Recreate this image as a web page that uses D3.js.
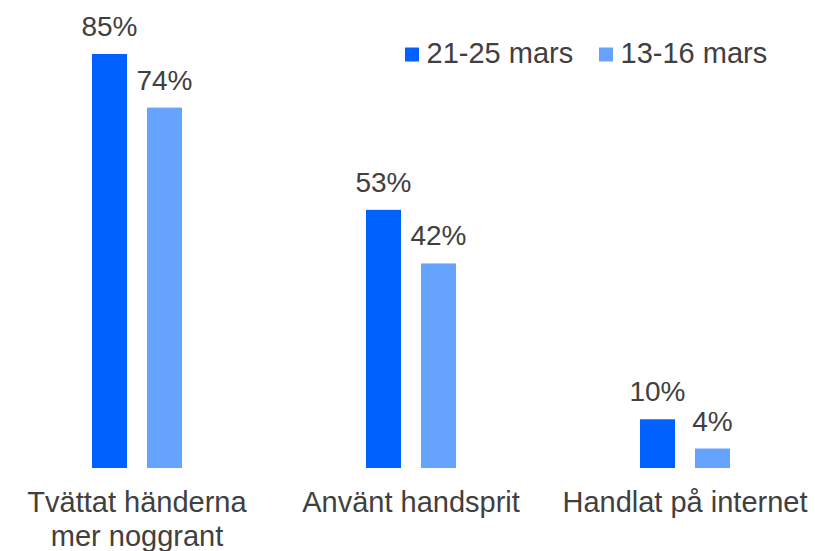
<!DOCTYPE html>
<html>
<head>
<meta charset="utf-8">
<script src="https://cdn.jsdelivr.net/npm/d3@7"></script>
<style>
  html, body { margin: 0; padding: 0; background: #ffffff; }
  svg { display: block; }
  text { font-family: "Liberation Sans", Arial, sans-serif; fill: #404040; }
</style>
</head>
<body>
<script>
const categories = [["Tvättat händerna", "mer noggrant"], ["Använt handsprit"], ["Handlat på internet"]];
const seriesNames = ["21-25 mars", "13-16 mars"];
const seriesColors = ["#0061FF", "#66A3FF"];
const valuesRecent = [85, 53, 10];
const valuesEarlier = [74, 42, 4];

const W = 815, H = 551;
const svg = d3.select("body").append("svg").attr("width", W).attr("height", H);

const catKeys = categories.map(c => c.join(" "));
const x0 = d3.scaleBand().domain(catKeys).range([0, 822]).padding(0);
const x1 = d3.scaleBand().domain(seriesNames).range([0, 90]).paddingInner(20 / 55).paddingOuter(0);
const y = d3.scaleLinear().domain([0, 85]).range([468, 54]);

const data = [];
catKeys.forEach((k, i) => {
  data.push({ cat: k, s: seriesNames[0], v: valuesRecent[i], c: seriesColors[0] });
  data.push({ cat: k, s: seriesNames[1], v: valuesEarlier[i], c: seriesColors[1] });
});
const gx = d => x0(d.cat) + x0.bandwidth() / 2 - 45 + x1(d.s);

svg.append("g").selectAll("rect").data(data).join("rect")
  .attr("x", gx)
  .attr("y", d => y(d.v))
  .attr("width", x1.bandwidth())
  .attr("height", d => y(0) - y(d.v))
  .attr("fill", d => d.c);

svg.append("g").selectAll("text").data(data).join("text")
  .attr("x", d => gx(d) + x1.bandwidth() / 2)
  .attr("y", d => y(d.v) - 18)
  .attr("text-anchor", "middle")
  .style("font-size", "28px")
  .text(d => d.v + "%");

// category labels
const cl = svg.append("g").selectAll("text").data(categories).join("text")
  .attr("x", (d, i) => x0(catKeys[i]) + x0.bandwidth() / 2)
  .attr("y", 511.5)
  .attr("text-anchor", "middle")
  .style("font-size", "29px");
cl.selectAll("tspan").data(d => d).join("tspan")
  .attr("x", function () { return d3.select(this.parentNode).attr("x"); })
  .attr("dy", (d, i) => i === 0 ? 0 : 34.5)
  .text(d => d);

// legend
const legendX = [405, 599];
const lg = svg.append("g").selectAll("g").data(seriesNames).join("g")
  .attr("transform", (d, i) => `translate(${legendX[i]},0)`);
lg.append("rect").attr("x", 0).attr("y", 47.5).attr("width", 14).attr("height", 14)
  .attr("fill", (d, i) => seriesColors[i]);
lg.append("text").attr("x", 21.5).attr("y", 62.5).style("font-size", "29px").text(d => d);
</script>
</body>
</html>
